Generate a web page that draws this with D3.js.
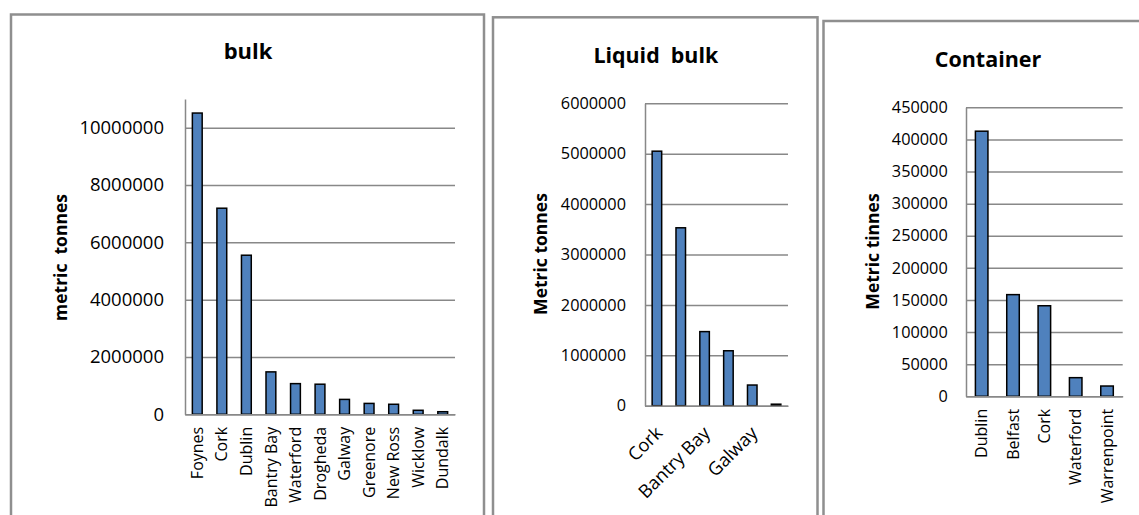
<!DOCTYPE html>
<html><head><meta charset="utf-8">
<script src="https://cdn.jsdelivr.net/npm/d3@7"></script>
<style>
body{margin:0;background:#fff}
text{font-family:"Open Sans",sans-serif;fill:#000}
</style>
</head><body>
<svg id="c" width="1139" height="515"></svg>
<script>
// ---- data ----
const bulkPorts = ["Foynes","Cork","Dublin","Bantry Bay","Waterford","Drogheda","Galway","Greenore","New Ross","Wicklow","Dundalk"];
const bulkTonnes = [10510000,7190000,5550000,1480000,1070000,1050000,520000,380000,350000,140000,90000];
const bulkTicks = [0,2000000,4000000,6000000,8000000,10000000];

const liquidPorts = ["Cork","Dublin","Bantry Bay","Shannon Foynes","Galway","Drogheda"];
const liquidTonnes = [5050000,3530000,1470000,1090000,410000,30000];
const liquidTicks = [0,1000000,2000000,3000000,4000000,5000000,6000000];

const containerPorts = ["Dublin","Belfast","Cork","Waterford","Warrenpoint"];
const containerTonnes = [412800,158300,141000,29000,16000];
const containerTicks = [0,50000,100000,150000,200000,250000,300000,350000,400000,450000];

const chartTitles = ["bulk","Liquid  bulk","Container"];
const axisTitles = ["metric  tonnes","Metric tonnes","Metric tinnes"];

// ---- layout ----
const panels = [
  {ports:bulkPorts, values:bulkTonnes, ticks:bulkTicks, yMax:11000000, title:chartTitles[0], yTitle:axisTitles[0],
   frame:[11,14.5,473], plot:[185,455,99,414.3], titleXY:[248,59], titleSize:22,
   yTitleXY:[66.5,257.5], tickSize:18.5, tickPad:21, catSize:16, rot:-90, every:1},
  {ports:liquidPorts, values:liquidTonnes, ticks:liquidTicks, yMax:6000000, title:chartTitles[1], yTitle:axisTitles[1],
   frame:[493,17.3,324.5], plot:[645,788,103.3,405.7], titleXY:[655.8,62.7], titleSize:21.4,
   yTitleXY:[547,254], tickSize:16.3, tickPad:19, catSize:18.3, rot:-45, every:2},
  {ports:containerPorts, values:containerTonnes, ticks:containerTicks, yMax:450000, title:chartTitles[2], yTitle:axisTitles[2],
   frame:[823.5,21,330], plot:[966,1122.7,107.3,396.3], titleXY:[988,66.7], titleSize:21.5,
   yTitleXY:[879,251.5], tickSize:16.3, tickPad:18.3, catSize:16, rot:-90, every:1}
];

const svg = d3.select("#c");
svg.append("rect").attr("width",1139).attr("height",515).attr("fill","#fff");

const gridCol = "#888888";

panels.forEach(p => {
  const g = svg.append("g");
  const [L,R,T,B] = p.plot;

  // frame
  g.append("rect")
    .attr("x",p.frame[0]).attr("y",p.frame[1])
    .attr("width",p.frame[2]).attr("height",700)
    .attr("fill","none").attr("stroke","#8f8f8f").attr("stroke-width",2.5);

  const x = d3.scaleBand().domain(p.ports).range([L,R]).paddingInner(0.6).paddingOuter(0.3);
  const y = d3.scaleLinear().domain([0,p.yMax]).range([B,T]);

  // y axis with gridlines
  const ya = g.append("g").attr("transform",`translate(${L},0)`)
    .call(d3.axisLeft(y).tickValues(p.ticks).tickSize(-(R-L)).tickSizeOuter(0).tickPadding(p.tickPad).tickFormat(d3.format("d")));
  ya.select(".domain").attr("stroke",gridCol).attr("stroke-width",1.5);
  ya.selectAll(".tick line").attr("stroke",gridCol).attr("stroke-width",1.5);
  ya.selectAll(".tick text").attr("font-size",p.tickSize).attr("font-family","'Open Sans',sans-serif").attr("fill","#000");

  // bars
  g.selectAll("rect.bar").data(p.values).enter().append("rect").attr("class","bar")
    .attr("x",(d,i)=>x(p.ports[i]))
    .attr("y",d=>y(d))
    .attr("width",x.bandwidth())
    .attr("height",d=>y(0)-y(d))
    .attr("fill","#4F81BD").attr("stroke","#000").attr("stroke-width",1.5);

  // x axis
  const xa = g.append("g").attr("transform",`translate(0,${B})`)
    .call(d3.axisBottom(x).tickSize(0).tickSizeOuter(0).tickFormat((d,i)=> i % p.every === 0 ? d : ""));
  xa.select(".domain").attr("stroke",gridCol).attr("stroke-width",1.5);
  const tt = xa.selectAll(".tick text").attr("font-size",p.catSize)
    .attr("font-family","'Open Sans',sans-serif").attr("fill","#000");
  if (p.rot === -90) {
    tt.attr("transform","rotate(-90)").attr("text-anchor","end")
      .attr("x",-12.5).attr("y",0).attr("dy","0.35em");
  } else {
    tt.attr("transform","translate(2,24) rotate(-45)").attr("text-anchor","end")
      .attr("x",0).attr("y",0).attr("dy","0.35em");
  }

  // titles
  g.append("text").attr("x",p.titleXY[0]).attr("y",p.titleXY[1])
    .attr("text-anchor","middle").attr("font-weight","bold").attr("font-size",p.titleSize)
    .style("white-space","pre").text(p.title);
  g.append("text").attr("transform",`translate(${p.yTitleXY[0]},${p.yTitleXY[1]}) rotate(-90)`)
    .attr("text-anchor","middle").attr("font-weight","bold").attr("font-size",17.5)
    .style("white-space","pre").text(p.yTitle);
});
</script>
</body></html>
